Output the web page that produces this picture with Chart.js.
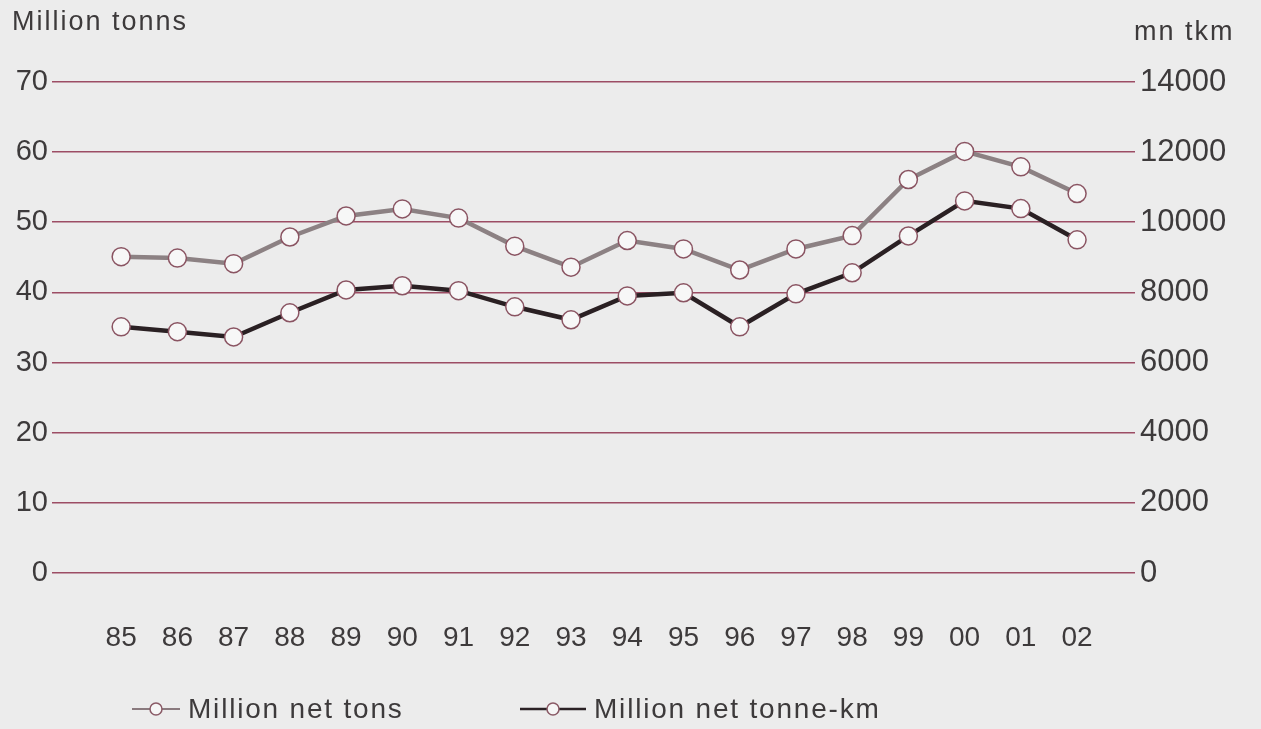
<!DOCTYPE html>
<html>
<head>
<meta charset="utf-8">
<script src="https://cdn.jsdelivr.net/npm/chart.js@4/dist/chart.umd.min.js"></script>
<style>
  html, body { margin: 0; padding: 0; background: #ececec; }
  #wrap { position: relative; width: 1261px; height: 729px; font-family: "Liberation Sans", Arial, sans-serif; color: #3d3a3b; }
  #chart { position: absolute; left: 0; top: 0; }
  .unit { position: absolute; font-size: 27px; letter-spacing: 2px; }
  .leg { position: absolute; top: 693px; font-size: 28px; letter-spacing: 1.8px; display: flex; align-items: center; }
  .leg svg { margin-right: 8px; }
</style>
</head>
<body>
<div id="wrap">
  <canvas id="chart" width="1261" height="729"></canvas>
  <div class="unit" style="left:12px; top:6px;">Million tonns</div>
  <div class="unit" style="left:1134px; top:16px;">mn tkm</div>
  <div class="leg" style="left:132px;">
    <svg width="48" height="16"><line x1="0" y1="8" x2="48" y2="8" stroke="#8a7a7e" stroke-width="2"/><circle cx="24" cy="8" r="6" fill="#f6f6f6" stroke="#8a5a66" stroke-width="1.5"/></svg>
    Million net tons
  </div>
  <div class="leg" style="left:520px;">
    <svg width="66" height="16"><line x1="0" y1="8" x2="66" y2="8" stroke="#2b2225" stroke-width="2.5"/><circle cx="33" cy="8" r="6" fill="#f6f6f6" stroke="#8a5a66" stroke-width="1.5"/></svg>
    Million net tonne-km
  </div>
</div>
<script>
// years 1985-2002
var years = [1985, 1986, 1987, 1988, 1989, 1990, 1991, 1992, 1993, 1994, 1995, 1996, 1997, 1998, 1999, 2000, 2001, 2002];
// million net tons (left axis)
var netTons = [45.1, 44.9, 44.1, 47.9, 50.9, 51.9, 50.6, 46.6, 43.6, 47.4, 46.2, 43.2, 46.2, 48.1, 56.1, 60.1, 57.9, 54.1];
// million net tonne-km (right axis)
var tonneKm = [7020, 6880, 6730, 7420, 8070, 8190, 8050, 7590, 7220, 7900, 7990, 7020, 7960, 8560, 9610, 10610, 10390, 9500];

var leftTicks = [0, 10, 20, 30, 40, 50, 60, 70];
var rightTicks = [0, 2000, 4000, 6000, 8000, 10000, 12000, 14000];

var textColor = "#3d3a3b";
var gridColor = "#9c4d64";
var tickFont = { family: "Liberation Sans", size: 29 };

var ctx = document.getElementById("chart").getContext("2d");
ctx.letterSpacing = "1px";

var pointStyle = {
    pointRadius: 9,
    pointHoverRadius: 9,
    pointBackgroundColor: "#f7f7f7",
    pointBorderColor: "#8a5462",
    pointBorderWidth: 1.5,
};

var chartData = {
    labels: years,
    datasets: [
        Object.assign({
            label: "Million net tons",
            data: netTons,
            yAxisID: "yL",
            borderColor: "#8c8183",
            borderWidth: 4.5,
            tension: 0,
        }, pointStyle),
        Object.assign({
            label: "Million net tonne-km",
            data: tonneKm,
            yAxisID: "yR",
            borderColor: "#2a2023",
            borderWidth: 4.5,
            tension: 0,
        }, pointStyle),
    ],
};

var chartOptions = {
    responsive: false,
    animation: false,
    layout: { padding: { top: 82, left: 0, right: 0, bottom: 0 } },
    plugins: {
        legend: { display: false },
        tooltip: { enabled: false },
    },
    scales: {
        x: {
            type: "linear",
            min: 1983.77,
            max: 2003.03,
            border: { display: false },
            grid: { display: false },
            afterBuildTicks: function (scale) {
                scale.ticks = years.map(function (y) { return { value: y }; });
            },
            afterFit: function (scale) { scale.height = 156; },
            ticks: {
                padding: 40,
                color: textColor,
                font: { family: "Liberation Sans", size: 28 },
                maxRotation: 0,
                autoSkip: false,
                callback: function (v) { return String(v).slice(2); },
            },
        },
        yL: {
            position: "left",
            min: 0,
            max: 70,
            border: { display: false },
            afterBuildTicks: function (scale) {
                scale.ticks = leftTicks.map(function (v) { return { value: v }; });
            },
            afterFit: function (scale) { scale.width = 52; },
            grid: { color: gridColor, lineWidth: 1.6, drawTicks: false },
            ticks: { padding: 4, color: textColor, font: tickFont, callback: function (v) { return String(v); } },
        },
        yR: {
            position: "right",
            min: 0,
            max: 14000,
            border: { display: false },
            afterBuildTicks: function (scale) {
                scale.ticks = rightTicks.map(function (v) { return { value: v }; });
            },
            afterFit: function (scale) { scale.width = 126; },
            grid: { drawOnChartArea: false, drawTicks: false },
            ticks: { padding: 5, color: textColor, font: { family: "Liberation Sans", size: 31 }, callback: function (v) { return String(v); } },
        },
    },
};

var myChart = new Chart(ctx, { type: "line", data: chartData, options: chartOptions });
</script>
</body>
</html>
